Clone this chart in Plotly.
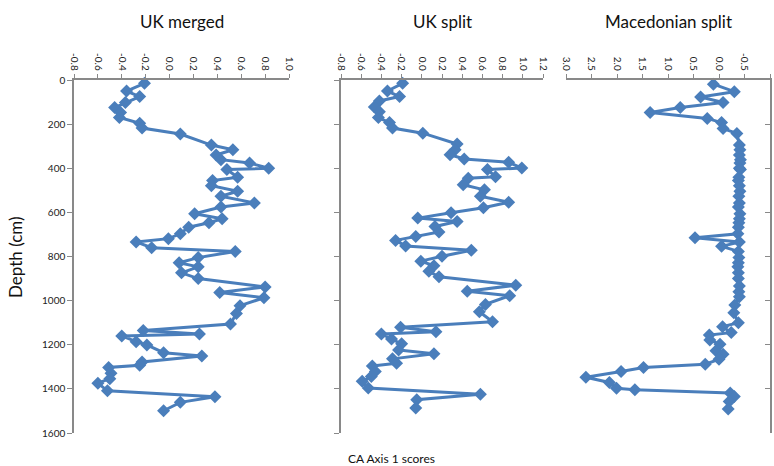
import plotly.graph_objects as go

# ---------------- data ----------------
uk_merged_depth = [15, 50, 75, 102, 125, 147, 170, 196, 218, 245, 295, 316, 340, 361, 376, 400, 406, 441,
                   456, 479, 504, 527, 557, 576, 606, 629, 647, 667, 697, 719, 734, 760, 777, 805, 828, 847,
                   874, 900, 938, 963, 987, 1023, 1058, 1106, 1135, 1151, 1160, 1186, 1201, 1236, 1251, 1278,
                   1293, 1303, 1329, 1354, 1374, 1409, 1436, 1461, 1499]
uk_merged_score = [-0.21, -0.36, -0.25, -0.37, -0.46, -0.41, -0.42, -0.25, -0.23, 0.09, 0.35, 0.53, 0.39,
                   0.43, 0.67, 0.83, 0.48, 0.57, 0.36, 0.35, 0.57, 0.43, 0.71, 0.43, 0.21, 0.44, 0.33, 0.16,
                   0.09, -0.01, -0.28, -0.15, 0.55, 0.24, 0.08, 0.24, 0.10, 0.24, 0.80, 0.42, 0.79, 0.59,
                   0.56, 0.51, -0.22, 0.25, -0.40, -0.28, -0.19, -0.05, 0.27, -0.23, -0.25, -0.51, -0.49,
                   -0.50, -0.60, -0.52, 0.38, 0.09, -0.05]

uk_split_depth = [15, 50, 75, 95, 122, 144, 170, 193, 218, 241, 290, 316, 339, 358, 373, 399, 406, 438,
                  445, 475, 498, 527, 554, 579, 602, 626, 641, 664, 689, 709, 727, 752, 772, 799, 821, 842,
                  867, 892, 930, 957, 978, 1017, 1050, 1096, 1121, 1141, 1151, 1174, 1196, 1224, 1241, 1264,
                  1284, 1296, 1321, 1344, 1366, 1396, 1424, 1449, 1487]
uk_split_score = [-0.19, -0.34, -0.22, -0.42, -0.47, -0.42, -0.43, -0.32, -0.29, 0.01, 0.35, 0.33, 0.28,
                  0.42, 0.86, 0.99, 0.65, 0.73, 0.46, 0.41, 0.62, 0.58, 0.86, 0.61, 0.29, -0.04, 0.35, 0.13,
                  0.17, -0.06, -0.26, -0.16, 0.49, 0.20, -0.01, 0.12, 0.07, 0.17, 0.93, 0.45, 0.87, 0.63,
                  0.57, 0.70, -0.21, 0.14, -0.40, -0.30, -0.20, -0.23, 0.12, -0.29, -0.25, -0.49, -0.46,
                  -0.50, -0.59, -0.53, 0.58, -0.05, -0.06]

mac_split_depth = [19, 53, 77, 102, 125, 147, 174, 193, 220, 242, 295, 316, 340, 361, 376, 400, 406, 441,
                   456, 479, 504, 527, 557, 576, 606, 629, 647, 667, 697, 715, 734, 754, 777, 805, 828, 847,
                   874, 900, 934, 960, 983, 1020, 1055, 1100, 1118, 1145, 1156, 1178, 1198, 1227, 1243, 1266,
                   1288, 1303, 1321, 1347, 1371, 1397, 1404, 1419, 1434, 1457, 1491]
mac_split_score = [0.11, -0.30, 0.36, -0.08, 0.76, 1.35, 0.23, -0.05, -0.08, -0.35, -0.40, -0.41, -0.40,
                   -0.42, -0.41, -0.40, -0.42, -0.39, -0.38, -0.40, -0.41, -0.39, -0.40, -0.38, -0.41, -0.40,
                   -0.39, -0.38, -0.37, 0.47, -0.40, -0.05, -0.38, -0.39, -0.38, -0.37, -0.38, -0.38, -0.40,
                   -0.39, -0.40, -0.31, -0.29, -0.38, -0.07, -0.24, 0.19, 0.18, -0.02, 0.06, -0.08, 0.00,
                   0.27, 1.48, 1.92, 2.61, 2.15, 2.01, 1.65, -0.22, -0.30, -0.20, -0.18]

panel_titles = ["UK merged", "UK split", "Macedonian split"]

uk_merged_ticks = [-0.8, -0.6, -0.4, -0.2, 0.0, 0.2, 0.4, 0.6, 0.8, 1.0]
uk_merged_ticktext = ["-0.8", "-0.6", "-0.4", "-0.2", "0.0", "0.2", "0.4", "0.6", "0.8", "1.0"]
uk_split_ticks = [-0.8, -0.6, -0.4, -0.2, 0.0, 0.2, 0.4, 0.6, 0.8, 1.0, 1.2]
uk_split_ticktext = ["-0.8", "-0.6", "-0.4", "-0.2", "0.0", "0.2", "0.4", "0.6", "0.8", "1.0", "1.2"]
mac_ticks = [3.0, 2.5, 2.0, 1.5, 1.0, 0.5, 0.0, -0.5, -1.0]
mac_ticktext = ["3.0", "2.5", "2.0", "1.5", "1.0", "0.5", "0.0", "-0.5", "-1.0"]

depth_ticks = [0, 200, 400, 600, 800, 1000, 1200, 1400, 1600]

# ---------------- figure ----------------
W, H = 774, 466
BLUE = "#4A7EBB"
AXC = "#898989"
FONT = "Lato, 'Liberation Sans', sans-serif"

fig = go.Figure()
series = [(uk_merged_score, uk_merged_depth, "x", "y"),
          (uk_split_score, uk_split_depth, "x2", "y2"),
          (mac_split_score, mac_split_depth, "x3", "y3")]
for xs, ys, xa, ya in series:
    fig.add_trace(go.Scatter(
        x=xs, y=ys, xaxis=xa, yaxis=ya, mode="lines+markers",
        line=dict(color=BLUE, width=3),
        marker=dict(symbol="diamond", size=10, color=BLUE),
        showlegend=False, hoverinfo="skip", cliponaxis=False))

def px_x(a, b):
    return [a / W, b / W]

ydom = [1 - 433 / H, 1 - 80 / H]
tickfont = dict(family=FONT, size=10, color="#222222")

def xaxis(dom, rng, tv, tt, anchor):
    return dict(domain=dom, range=rng, side="top", tickmode="array", tickvals=tv, ticktext=tt,
                tickangle=90, ticks="outside", ticklen=4, tickcolor=AXC, showline=True,
                linecolor=AXC, linewidth=1.5, showgrid=False, zeroline=False, anchor=anchor,
                tickfont=tickfont, automargin=False)

def yaxis(anchor, side, labels, ticks):
    return dict(domain=ydom, range=[1600, 0], tickmode="array", tickvals=depth_ticks,
                ticks=ticks, ticklen=5, tickcolor=AXC, showline=True, linecolor=AXC, linewidth=1.5,
                showgrid=False, zeroline=False, anchor=anchor, side=side,
                showticklabels=labels, tickfont=tickfont, automargin=False)

fig.update_layout(
    width=W, height=H, margin=dict(l=0, r=0, t=0, b=0),
    paper_bgcolor="white", plot_bgcolor="white",
    font=dict(family=FONT, color="#222222"),
    xaxis=xaxis(px_x(74, 289), [-0.8, 1.0], uk_merged_ticks, uk_merged_ticktext, "y"),
    xaxis2=xaxis(px_x(341, 543), [-0.8, 1.2], uk_split_ticks, uk_split_ticktext, "y2"),
    xaxis3=xaxis(px_x(566, 770), [3.0, -1.0], mac_ticks, mac_ticktext, "y3"),
    yaxis=yaxis("x", "left", True, "outside"),
    yaxis2=yaxis("x2", "left", False, "outside"),
    yaxis3=yaxis("x3", "right", False, "inside"),
)

title_centers = [181.5, 442, 668]
for t, cx in zip(panel_titles, title_centers):
    fig.add_annotation(text=t, x=cx / W, y=1 - 22 / H, xref="paper", yref="paper",
                       showarrow=False, font=dict(family=FONT, size=17, color="#111111"),
                       xanchor="center", yanchor="middle")

fig.add_annotation(text="Depth (cm)", x=15 / W, y=1 - 257 / H, xref="paper", yref="paper",
                   showarrow=False, textangle=-90, font=dict(family=FONT, size=17, color="#111111"),
                   xanchor="center", yanchor="middle")
fig.add_annotation(text="CA Axis 1 scores", x=391 / W, y=1 - 458 / H, xref="paper", yref="paper",
                   showarrow=False, font=dict(family=FONT, size=12, color="#111111"),
                   xanchor="center", yanchor="middle")

fig.write_html("out.html", config={"displayModeBar": False},
               post_script="document.body.style.margin='0';document.body.style.overflow='hidden';")
